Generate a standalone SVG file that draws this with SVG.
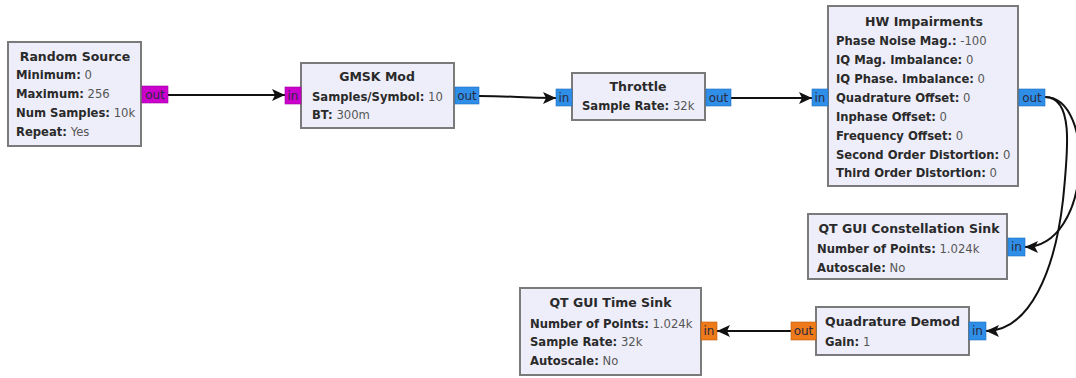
<svg xmlns="http://www.w3.org/2000/svg" width="1076" height="378" viewBox="0 0 1076 378">
  <style>
    .blk { fill: #eeeefa; stroke: #7a7a7a; stroke-width: 2; }
    .ttl { font-family: "DejaVu Sans", "Liberation Sans", sans-serif; font-size: 12.5px; font-weight: bold; fill: #2a2a2a; text-anchor: middle; }
    .prm { font-family: "DejaVu Sans", "Liberation Sans", sans-serif; font-size: 11.6px; fill: #555; }
    .prm .k { font-weight: bold; fill: #2a2a2a; }
    .pt { font-family: "DejaVu Sans", "Liberation Sans", sans-serif; font-size: 12px; fill: #2a2a40; text-anchor: middle; }
    .byte { fill: #cc00cc; stroke: #a000a0; stroke-width: 0.6; }
    .cplx { fill: #2f8fe8; stroke: #1c6fc0; stroke-width: 0.6; }
    .flt { fill: #ee7a1a; stroke: #c05c08; stroke-width: 0.6; }
    .wire { fill: none; stroke: #111; stroke-width: 2; marker-end: url(#arrow); }
  </style>
  <defs>
    <marker id="arrow" markerUnits="userSpaceOnUse" markerWidth="14" markerHeight="12" refX="13" refY="6" orient="auto">
      <path d="M0,0 L13,6 L0,12 L3,6 Z" fill="#111"/>
    </marker>
  </defs>
  <rect width="1076" height="378" fill="#ffffff"/>

  <!-- connections -->
  <g id="connectors">
    <path class="wire" d="M168,95 L285,95"/>
    <path class="wire" d="M479,96 C515,96 520,98 556,98"/>
    <path class="wire" d="M731,98 L812,98"/>
    <path class="wire" d="M1045,97 C1096,97 1092,247 1025,247"/>
    <path class="wire" d="M1045,97 C1074,97 1068,150 1063,200 C1055,270 1030,331 986,331"/>
    <path class="wire" d="M791,331 L717,331"/>
  </g>

  <!-- Random Source -->
  <g id="random_source">
    <rect class="blk" x="8" y="42" width="133" height="104"/>
    <text class="ttl" x="75" y="61">Random Source</text>
    <text class="prm" x="16" y="79"><tspan class="k">Minimum:</tspan> 0</text>
    <text class="prm" x="16" y="98"><tspan class="k">Maximum:</tspan> 256</text>
    <text class="prm" x="16" y="117"><tspan class="k">Num Samples:</tspan> 10k</text>
    <text class="prm" x="16" y="136"><tspan class="k">Repeat:</tspan> Yes</text>
    <rect class="byte" x="142" y="86" width="26" height="17"/>
    <text class="pt" x="155" y="99">out</text>
  </g>

  <!-- GMSK Mod -->
  <g id="gmsk_mod">
    <rect class="blk" x="301" y="63" width="153" height="65"/>
    <text class="ttl" x="377" y="81">GMSK Mod</text>
    <text class="prm" x="312" y="101"><tspan class="k">Samples/Symbol:</tspan> 10</text>
    <text class="prm" x="312" y="119"><tspan class="k">BT:</tspan> 300m</text>
    <rect class="byte" x="285" y="87" width="16" height="17"/>
    <text class="pt" x="293" y="100">in</text>
    <rect class="cplx" x="455" y="87" width="24" height="17"/>
    <text class="pt" x="467" y="100">out</text>
  </g>

  <!-- Throttle -->
  <g id="throttle">
    <rect class="blk" x="572" y="73" width="133" height="47"/>
    <text class="ttl" x="638" y="91">Throttle</text>
    <text class="prm" x="582" y="110"><tspan class="k">Sample Rate:</tspan> 32k</text>
    <rect class="cplx" x="556" y="89" width="16" height="17"/>
    <text class="pt" x="564" y="102">in</text>
    <rect class="cplx" x="706" y="89" width="25" height="17"/>
    <text class="pt" x="718.5" y="102">out</text>
  </g>

  <!-- HW Impairments -->
  <g id="hw_impairments">
    <rect class="blk" x="828" y="6" width="190" height="180"/>
    <text class="ttl" x="924" y="26">HW Impairments</text>
    <text class="prm" x="836" y="45"><tspan class="k">Phase Noise Mag.:</tspan> -100</text>
    <text class="prm" x="836" y="64"><tspan class="k">IQ Mag. Imbalance:</tspan> 0</text>
    <text class="prm" x="836" y="83"><tspan class="k">IQ Phase. Imbalance:</tspan> 0</text>
    <text class="prm" x="836" y="102"><tspan class="k">Quadrature Offset:</tspan> 0</text>
    <text class="prm" x="836" y="121"><tspan class="k">Inphase Offset:</tspan> 0</text>
    <text class="prm" x="836" y="140"><tspan class="k">Frequency Offset:</tspan> 0</text>
    <text class="prm" x="836" y="159"><tspan class="k">Second Order Distortion:</tspan> 0</text>
    <text class="prm" x="836" y="177"><tspan class="k">Third Order Distortion:</tspan> 0</text>
    <rect class="cplx" x="812" y="89" width="16" height="17"/>
    <text class="pt" x="820" y="102">in</text>
    <rect class="cplx" x="1019" y="89" width="26" height="17"/>
    <text class="pt" x="1032" y="102">out</text>
  </g>

  <!-- QT GUI Constellation Sink -->
  <g id="constellation_sink">
    <rect class="blk" x="808" y="214" width="199" height="65"/>
    <text class="ttl" x="909" y="233">QT GUI Constellation Sink</text>
    <text class="prm" x="817" y="253"><tspan class="k">Number of Points:</tspan> 1.024k</text>
    <text class="prm" x="817" y="272"><tspan class="k">Autoscale:</tspan> No</text>
    <rect class="cplx" x="1008" y="238" width="17" height="18"/>
    <text class="pt" x="1016.5" y="251">in</text>
  </g>

  <!-- QT GUI Time Sink -->
  <g id="time_sink">
    <rect class="blk" x="520" y="288" width="181" height="87"/>
    <text class="ttl" x="610.5" y="307">QT GUI Time Sink</text>
    <text class="prm" x="530" y="328"><tspan class="k">Number of Points:</tspan> 1.024k</text>
    <text class="prm" x="530" y="346"><tspan class="k">Sample Rate:</tspan> 32k</text>
    <text class="prm" x="530" y="365"><tspan class="k">Autoscale:</tspan> No</text>
    <rect class="flt" x="701" y="322" width="16" height="18"/>
    <text class="pt" x="709" y="335">in</text>
  </g>

  <!-- Quadrature Demod -->
  <g id="quadrature_demod">
    <rect class="blk" x="816" y="307" width="153" height="48"/>
    <text class="ttl" x="892.5" y="326">Quadrature Demod</text>
    <text class="prm" x="825" y="346"><tspan class="k">Gain:</tspan> 1</text>
    <rect class="cplx" x="969" y="322" width="17" height="18"/>
    <text class="pt" x="977.5" y="335">in</text>
    <rect class="flt" x="791" y="322" width="25" height="18"/>
    <text class="pt" x="803.5" y="335">out</text>
  </g>
</svg>
